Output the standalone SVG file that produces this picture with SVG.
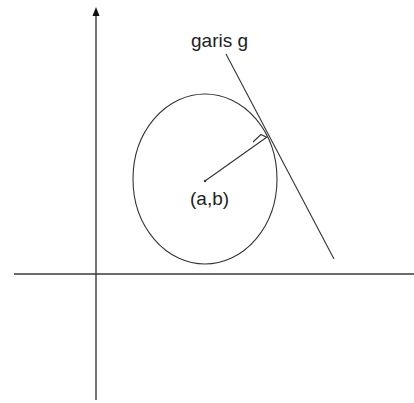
<svg xmlns="http://www.w3.org/2000/svg" width="414" height="403" viewBox="0 0 414 403">
<defs>
<style>
.ax{stroke:#3a3a3a;stroke-width:1.4;fill:none}
.ln{stroke:#333;stroke-width:1.1;fill:none}
.tx{font-family:"Liberation Sans",Arial,sans-serif;font-size:19px;fill:#222}
</style>
</defs>
<rect width="414" height="403" fill="#fff"/>
<g id="connectors">
<line class="ax" x1="96" y1="14" x2="96" y2="400"/>
<polygon points="96,7 92.5,16 99.5,16" fill="#111"/>
<line class="ax" x1="14" y1="274" x2="414" y2="274"/>
<line class="ln" x1="226" y1="54" x2="334" y2="259"/>
<line class="ln" x1="205" y1="181" x2="267" y2="137"/>
<polyline class="ln" points="253,142 261,134.5 267,137.5"/>
</g>
<g id="circle">
<ellipse cx="205" cy="179" rx="72" ry="85" class="ln"/>
<circle cx="205" cy="181" r="1.2" fill="#333"/>
</g>
<g id="label-garis">
<text class="tx" x="191" y="47">garis g</text>
</g>
<g id="label-center">
<text class="tx" x="190" y="205">(a,b)</text>
</g>
</svg>
